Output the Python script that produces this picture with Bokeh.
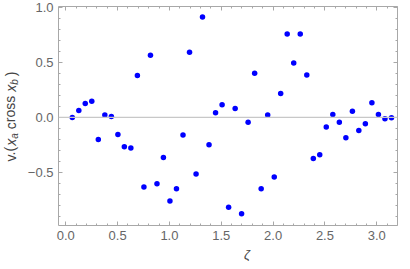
from bokeh.plotting import figure
from bokeh.layouts import row, column
from bokeh.models import (Span, SingleIntervalTicker, LinearAxis, CustomLabelingPolicy,
                          CustomJSTickFormatter, ColumnDataSource)
from bokeh.core.properties import value
from bokeh.embed import file_html
from bokeh.resources import INLINE

# ---- data ----
zeta = [0.063, 0.126, 0.188, 0.251, 0.314, 0.377, 0.440, 0.503, 0.565, 0.628,
        0.691, 0.754, 0.817, 0.880, 0.942, 1.005, 1.068, 1.131, 1.194, 1.257,
        1.319, 1.382, 1.445, 1.508, 1.571, 1.634, 1.696, 1.759, 1.822, 1.885,
        1.948, 2.011, 2.073, 2.136, 2.199, 2.262, 2.325, 2.388, 2.450, 2.513,
        2.576, 2.639, 2.702, 2.765, 2.827, 2.890, 2.953, 3.016, 3.079, 3.142]
vals = [0.000, 0.064, 0.127, 0.148, -0.200, 0.021, 0.009, -0.155, -0.267, -0.279,
        0.382, -0.634, 0.566, -0.604, -0.364, -0.761, -0.649, -0.161, 0.594, -0.515,
        0.915, -0.249, 0.042, 0.115, -0.818, 0.082, -0.876, -0.043, 0.403, -0.649,
        0.021, -0.543, 0.218, 0.760, 0.496, 0.760, 0.387, -0.373, -0.340, -0.088,
        0.027, -0.043, -0.185, 0.057, -0.118, -0.058, 0.133, 0.027, -0.013, -0.004]

x_label = "ζ"
y_label_parts = ["v.(", "x", "a", "cross", "x", "b", ")"]

FRAME = "#a8a8a8"
TXT = "#666666"
LBL = "#444444"
FONT = "Liberation Sans"
W, H = 402, 261
LW = 20      # width of the strip holding the y label
BH = 16      # height of the strip holding the x label
PH = H - BH

p = figure(width=W - LW, height=PH, x_range=(-0.07, 3.20), y_range=(-0.984, 1.01),
           output_backend="svg", toolbar_location=None,
           x_axis_location=None, y_axis_location=None)
p.min_border_left = 38
p.min_border_right = 2
p.min_border_top = 6
p.min_border_bottom = PH - 225
p.outline_line_color = None
p.xgrid.visible = False
p.ygrid.visible = False

fmt = CustomJSTickFormatter(code="return tick.toFixed(1).replace('-', '\u2212');")
no_labels = CustomLabelingPolicy(code="return []")


def style(ax, labels):
    ax.axis_line_color = FRAME
    ax.major_tick_line_color = FRAME
    ax.minor_tick_line_color = FRAME
    ax.major_tick_in = 4
    ax.major_tick_out = 0
    ax.minor_tick_in = 2
    ax.minor_tick_out = 0
    ax.axis_label = None
    if labels:
        ax.major_label_text_font = FONT
        ax.major_label_text_font_size = "13px"
        ax.major_label_text_color = TXT
        ax.major_label_standoff = 5
        ax.formatter = fmt
    else:
        ax.major_label_text_font_size = "1px"
        ax.major_label_standoff = 0
        ax.major_label_policy = no_labels


def ticker():
    return SingleIntervalTicker(interval=0.5, num_minor_ticks=5)


xb = LinearAxis(ticker=ticker())
style(xb, True)
p.add_layout(xb, "below")

xt = LinearAxis(ticker=ticker())
style(xt, False)
p.add_layout(xt, "above")

yl = LinearAxis(ticker=ticker())
style(yl, True)
p.add_layout(yl, "left")

yr = LinearAxis(ticker=ticker())
style(yr, False)
p.add_layout(yr, "right")

p.add_layout(Span(location=0, dimension="width", line_color="#c8c8c8", line_width=1.2))

src = ColumnDataSource(dict(x=zeta, y=vals))
p.scatter("x", "y", source=src, size=5.5, color="#0000ff", line_color=None)


def strip(w, h):
    f = figure(width=w, height=h, x_range=(0, w), y_range=(0, h),
               output_backend="svg", toolbar_location=None,
               x_axis_location=None, y_axis_location=None, min_border=0)
    f.outline_line_color = None
    f.xgrid.visible = False
    f.ygrid.visible = False
    return f


# ---- x label strip under the plot ----
bf = strip(W - LW, BH)
bf.text(x=[232.5 - LW], y=[H - 254], text=[x_label],
        text_font=value(FONT), text_font_size=value("13px"),
        text_font_style=value("italic"), text_color=LBL,
        text_align="center", text_baseline="middle")

# ---- y label strip left of the plot ----
lf = strip(LW, H)
cw = {"v": 0.5, ".": 0.278, "(": 0.333, ")": 0.333, "x": 0.5, "a": 0.556, "b": 0.556,
      "c": 0.5, "r": 0.333, "o": 0.556, "s": 0.5}
spec = [(14, "normal", 0, 0), (14, "italic", 0, 0), (10, "italic", 3.5, 4),
        (14, "normal", 0, 4), (14, "italic", 0, 0), (10, "italic", 3.5, 3),
        (14, "normal", 0, 0)]
widths = [sum(cw[c] for c in t) * s[0] + s[3] for t, s in zip(y_label_parts, spec)]
total = sum(widths)
pos = (H - 116) - total / 2
for t, (sz, st, dx, gap), w in zip(y_label_parts, spec, widths):
    lf.text(x=[10 + dx], y=[pos], text=[t], angle=1.5708,
            text_font=value(FONT), text_font_size=value(f"{sz}px"),
            text_font_style=value(st), text_color=LBL,
            text_align="left", text_baseline="middle")
    pos += w

layout = row(lf, column(p, bf))
open("out.html", "w").write(file_html(layout, INLINE))
